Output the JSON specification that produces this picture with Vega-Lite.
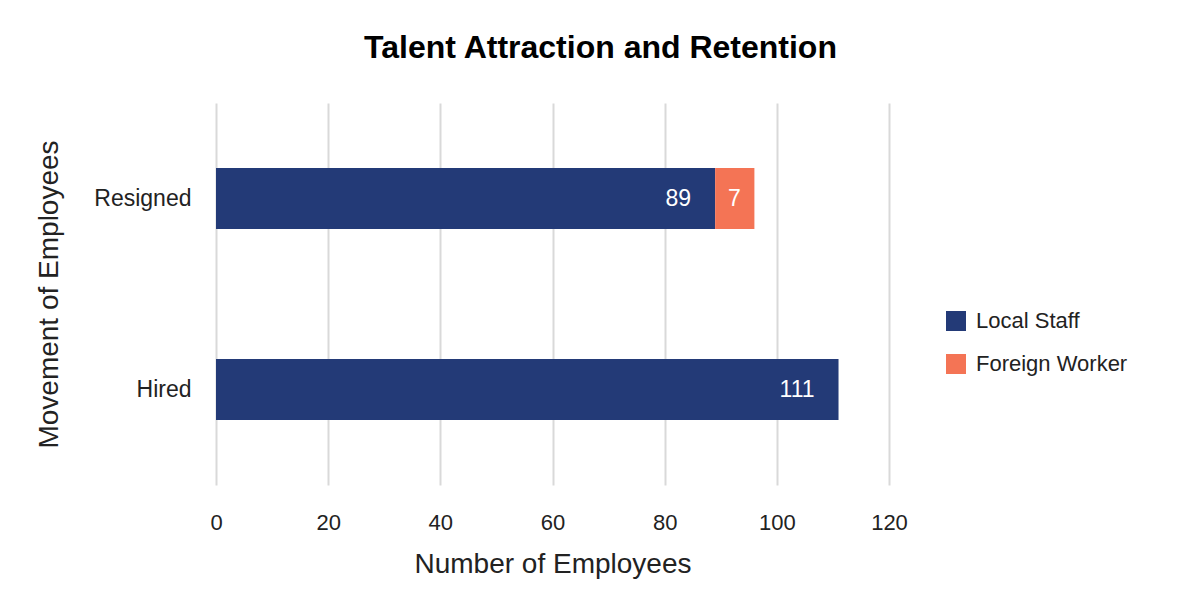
{
  "$schema": "https://vega.github.io/schema/vega-lite/v6.json",
  "autosize": "none",
  "width": 673,
  "height": 382,
  "padding": {"left": 216, "top": 103, "right": 300, "bottom": 110},
  "background": "white",
  "title": {
    "text": "Talent Attraction and Retention",
    "font": "Liberation Sans",
    "fontSize": 32,
    "fontWeight": "bold",
    "color": "#000000",
    "anchor": "middle",
    "dx": 48,
    "offset": 38
  },
  "config": {
    "view": {"stroke": null},
    "font": "Liberation Sans"
  },
  "data": {
    "values": [
      {"movement": "Resigned", "series": "Local Staff", "count": 89},
      {"movement": "Resigned", "series": "Foreign Worker", "count": 7},
      {"movement": "Hired", "series": "Local Staff", "count": 111}
    ]
  },
  "transform": [
    {"calculate": "datum.series === 'Local Staff' ? 0 : 1", "as": "stackOrder"}
  ],
  "encoding": {
    "y": {
      "field": "movement",
      "type": "nominal",
      "sort": ["Resigned", "Hired"],
      "scale": {"paddingInner": 0.68, "paddingOuter": 0.34},
      "axis": {
        "title": "Movement of Employees",
        "titleFont": "Liberation Sans",
        "titleFontSize": 28,
        "titleFontWeight": "normal",
        "titleColor": "#222222",
        "titlePadding": 30,
        "labelFont": "Liberation Sans",
        "labelFontSize": 23,
        "labelColor": "#222222",
        "labelPadding": 25,
        "ticks": false,
        "domain": false,
        "grid": false
      }
    }
  },
  "layer": [
    {
      "mark": {"type": "bar"},
      "encoding": {
        "x": {
          "field": "count",
          "type": "quantitative",
          "stack": "zero",
          "scale": {"domain": [0, 120], "nice": false},
          "axis": {
            "title": "Number of Employees",
            "titleFont": "Liberation Sans",
            "titleFontSize": 28,
            "titleFontWeight": "normal",
            "titleColor": "#222222",
            "titlePadding": 17,
            "values": [0, 20, 40, 60, 80, 100, 120],
            "labelFont": "Liberation Sans",
            "labelFontSize": 22,
            "labelColor": "#222222",
            "labelPadding": 27,
            "labelFlush": false,
            "ticks": false,
            "domain": false,
            "grid": true,
            "gridColor": "#d9d9d9",
            "gridWidth": 2
          }
        },
        "order": {"field": "stackOrder", "type": "quantitative"},
        "color": {
          "field": "series",
          "type": "nominal",
          "sort": ["Local Staff", "Foreign Worker"],
          "scale": {"domain": ["Local Staff", "Foreign Worker"], "range": ["#233a77", "#f47455"]},
          "legend": {
            "title": null,
            "orient": "none",
            "legendX": 729,
            "legendY": 207,
            "symbolType": "square",
            "symbolSize": 400,
            "symbolStrokeWidth": 0,
            "labelFont": "Liberation Sans",
            "labelFontSize": 22,
            "labelColor": "#222222",
            "labelOffset": 9,
            "rowPadding": 21
          }
        }
      }
    },
    {
      "transform": [{"filter": "datum.series === 'Local Staff'"}],
      "mark": {"type": "text", "align": "right", "baseline": "middle", "dx": -24, "fontSize": 23, "color": "#ffffff", "font": "Liberation Sans"},
      "encoding": {
        "x": {"field": "count", "type": "quantitative"},
        "text": {"field": "count", "type": "quantitative"}
      }
    },
    {
      "transform": [
        {"stack": "count", "groupby": ["movement"], "sort": [{"field": "stackOrder"}], "as": ["s0", "s1"]},
        {"filter": "datum.series === 'Foreign Worker'"}
      ],
      "mark": {"type": "text", "align": "center", "baseline": "middle", "dx": -20, "fontSize": 23, "color": "#ffffff", "font": "Liberation Sans"},
      "encoding": {
        "x": {"field": "s1", "type": "quantitative"},
        "text": {"field": "count", "type": "quantitative"}
      }
    }
  ]
}
